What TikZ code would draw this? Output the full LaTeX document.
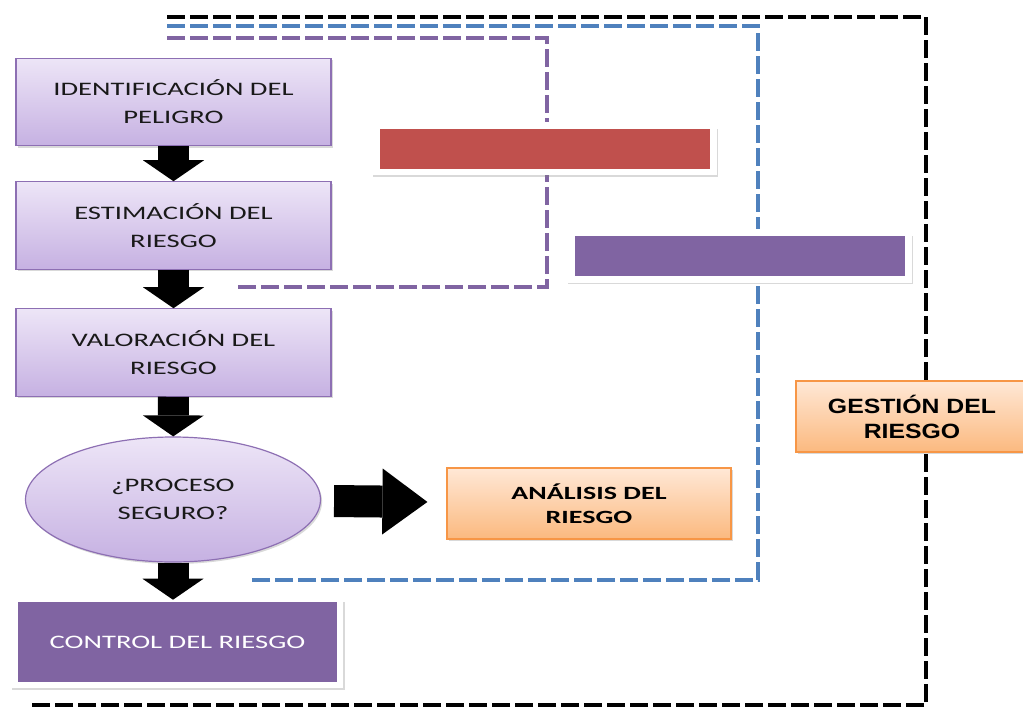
\documentclass[tikz,border=0pt]{standalone}
\usepackage{fontspec}
\setmainfont{Carlito}[FakeStretch=1.5]
\newfontfamily\gestfont{Liberation Sans}[FakeStretch=1.2]
\usetikzlibrary{arrows.meta,shapes.geometric,shadows}
\pgfdeclarelayer{back}
\pgfsetlayers{back,main}

\definecolor{lilaclaro}{HTML}{EDE5F7}
\definecolor{lilaoscuro}{HTML}{C6B1E2}
\definecolor{lilaborde}{HTML}{8D6FB3}
\definecolor{morado}{HTML}{8064A2}
\definecolor{rojo}{HTML}{C0504D}
\definecolor{naranjaclaro}{HTML}{FFE8D6}
\definecolor{naranjaoscuro}{HTML}{FBB97F}
\definecolor{naranjaborde}{HTML}{F79646}
\definecolor{azul}{HTML}{4F81BD}

\tikzset{
  sombra/.style={drop shadow={opacity=0.3,shadow xshift=1.2pt,shadow yshift=-1.5pt}},
  paso/.style={rectangle,draw=lilaborde,line width=0.9pt,top color=lilaclaro,bottom color=lilaoscuro,
    minimum width=236.25pt,minimum height=65.5pt,align=center,text=black!90,
    font=\fontsize{14.3}{21}\selectfont,sombra},
  barra/.style={rectangle,draw=white,line width=5pt,minimum width=252.5pt,minimum height=35pt,
    drop shadow={opacity=0.3,shadow scale=1.025,shadow xshift=0.5pt,shadow yshift=-3pt}},
  resultado/.style={rectangle,draw=naranjaborde,line width=0.9pt,top color=naranjaclaro,bottom color=naranjaoscuro,
    minimum width=213pt,minimum height=53.25pt,align=center,sombra},
  flecha/.style={line width=23.25pt,-{Triangle[width=45.75pt,length=15.75pt,line width=0pt]}},
  guia/.style={line width=3pt,dash pattern=on 13.5pt off 3.75pt}
}

\begin{document}
\begin{tikzpicture}[x=0.75pt,y=-0.75pt]
  \useasboundingbox (0,0) rectangle (1023,707);
  \node[paso] (ident) at (173.5,102) {IDENTIFICACIÓN DEL\\PELIGRO};
  \node[paso] (estim) at (173.5,225.5) {ESTIMACIÓN DEL\\RIESGO};
  \node[paso] (valor) at (173.5,352.5) {VALORACIÓN DEL\\RIESGO};
  \node[paso,ellipse,minimum width=221.25pt,minimum height=93.75pt,inner sep=0pt] (proceso) at (173,499.5) {¿PROCESO\\SEGURO?};
  \node[barra,fill=morado,minimum width=243.75pt,minimum height=64.9pt,line width=4.5pt,
    text=white,font=\fontsize{14.3}{21}\selectfont] (control) at (177.5,642) {CONTROL DEL RIESGO};
  \node[barra,fill=rojo] (rojo) at (545,148.5) {};
  \node[barra,fill=morado] (morado) at (740,256) {};
  \node[resultado,font=\bfseries\fontsize{14}{18}\selectfont] (analisis) at (589,503.5) {ANÁLISIS DEL\\RIESGO};
  \node[resultado,minimum width=174pt,font=\gestfont\bfseries\fontsize{15.5}{18.75}\selectfont] (gestion) at (912,416.5) {GESTIÓN DEL\\RIESGO};

  % flechas
  \draw[flecha] (ident) -- (estim);
  \draw[flecha] (estim) -- (valor);
  \draw[flecha] (valor) -- (proceso);
  \draw[flecha,shorten >=-3pt] (proceso.south) -- (proceso.south |- control.north);
  \draw[line width=24pt,-{Triangle[width=49.5pt,length=33.75pt,line width=0pt]},
    shorten <=9.75pt,shorten >=14.25pt] (proceso) -- (analisis);

  % lineas discontinuas
  \coordinate (gtop) at (167,17);
  \coordinate (gesq) at (926,17);
  \coordinate (gbot) at (27,705);
  \coordinate (atop) at (167,26);
  \coordinate (aesq) at (758,26);
  \coordinate (abot) at (251,580);
  \coordinate (etop) at (167,38);
  \coordinate (eesq) at (547,38);
  \coordinate (ebot) at (237,287);
  \begin{pgfonlayer}{back}
    \draw[guia,black] (gtop) -- (gesq) |- (gbot);
    \draw[guia,azul] (atop) -- (aesq) |- (abot);
    \draw[guia,morado] (etop) -- (eesq) |- (ebot);
  \end{pgfonlayer}
\end{tikzpicture}
\end{document}
